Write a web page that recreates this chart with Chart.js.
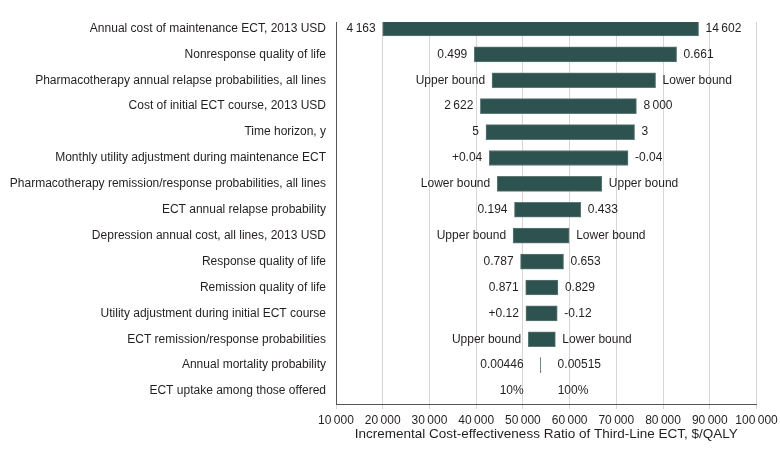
<!DOCTYPE html>
<html>
<head>
<meta charset="utf-8">
<script src="https://cdn.jsdelivr.net/npm/chart.js@4/dist/chart.umd.min.js"></script>
<style>
  html, body { margin: 0; padding: 0; background: #ffffff; }
  #wrap { width: 780px; height: 459px; position: relative; }
</style>
</head>
<body>
<div id="wrap"><canvas id="c"></canvas></div>
<script>
const categories = [
  'Annual cost of maintenance ECT, 2013 USD',
  'Nonresponse quality of life',
  'Pharmacotherapy annual relapse probabilities, all lines',
  'Cost of initial ECT course, 2013 USD',
  'Time horizon, y',
  'Monthly utility adjustment during maintenance ECT',
  'Pharmacotherapy remission/response probabilities, all lines',
  'ECT annual relapse probability',
  'Depression annual cost, all lines, 2013 USD',
  'Response quality of life',
  'Remission quality of life',
  'Utility adjustment during initial ECT course',
  'ECT remission/response probabilities',
  'Annual mortality probability',
  'ECT uptake among those offered'
];
const icerLow  = [20000, 39600, 43400, 40900, 42100, 42800, 44500, 48200, 47900, 49500, 50600, 50650, 51150, 53750, 53800];
const icerHigh = [87600, 82900, 78400, 74300, 73900, 72500, 66900, 62400, 59900, 58700, 57500, 57350, 56950, 53840, 53800];
const leftLabels  = ['4\u2009163', '0.499', 'Upper bound', '2\u2009622', '5', '+0.04', 'Lower bound', '0.194', 'Upper bound', '0.787', '0.871', '+0.12', 'Upper bound', '0.00446', '10%'];
const rightLabels = ['14\u2009602', '0.661', 'Lower bound', '8\u2009000', '3', '-0.04', 'Upper bound', '0.433', 'Lower bound', '0.653', '0.829', '-0.12', 'Lower bound', '0.00515', '100%'];
const xTickValues = [10000, 20000, 30000, 40000, 50000, 60000, 70000, 80000, 90000, 100000];
const xTitle = 'Incremental Cost-effectiveness Ratio of Third-Line ECT, $/QALY';

const FONT = '"Liberation Sans", Arial, sans-serif';
const TEXT = '#231f20';

function fmt(v) {
  return String(v).replace(/\B(?=(\d{3})+(?!\d))/g, '\u2009');
}

const barLabels = {
  id: 'barLabels',
  afterDatasetsDraw(chart) {
    const ctx = chart.ctx;
    const meta = chart.getDatasetMeta(0);
    ctx.save();
    ctx.font = '12px ' + FONT;
    ctx.fillStyle = TEXT;
    ctx.textBaseline = 'middle';
    meta.data.forEach((el, i) => {
      const p = el.getProps(['x', 'base', 'y'], true);
      let l = Math.min(p.x, p.base);
      let r = Math.max(p.x, p.base);
      if (r - l < 20) {
        const c = (l + r) / 2;
        l = c - 10; r = c + 10;
      }
      ctx.textAlign = 'right';
      ctx.fillText(leftLabels[i], l - 7, p.y);
      ctx.textAlign = 'left';
      ctx.fillText(rightLabels[i], r + 7, p.y);
    });
    ctx.restore();
  }
};

new Chart(document.getElementById('c'), {
  type: 'bar',
  data: {
    datasets: [{
      data: categories.map((_, i) => ({ y: i, x: [icerLow[i], icerHigh[i]] })),
      backgroundColor: '#2d524f',
      borderColor: '#5f7876',
      borderWidth: 1,
      borderSkipped: false,
      barThickness: 15
    }]
  },
  options: {
    indexAxis: 'y',
    responsive: true,
    maintainAspectRatio: false,
    animation: false,
    devicePixelRatio: 1,
    layout: { padding: { top: 22, right: 0, bottom: 0, left: 0 } },
    plugins: { legend: { display: false }, tooltip: { enabled: false } },
    scales: {
      y: {
        type: 'linear',
        reverse: true,
        offset: false,
        min: -0.25,
        max: 14.5,
        afterBuildTicks(scale) { scale.ticks = categories.map((_, i) => ({ value: i })); },
        afterFit(scale) { scale.width = 336; },
        grid: { display: false, drawTicks: false, offset: false },
        border: { display: true, color: '#555555', width: 1 },
        ticks: {
          autoSkip: false,
          padding: 10,
          color: TEXT,
          font: { family: FONT, size: 12 },
          callback: (v) => categories[v]
        }
      },
      x: {
        type: 'linear',
        min: 10000,
        max: 100000,
        afterBuildTicks(scale) { scale.ticks = xTickValues.map(v => ({ value: v })); },
        afterFit(scale) { scale.height = 55; scale.paddingRight = 23.5; },
        grid: { color: '#d6d6d6', lineWidth: 1, drawTicks: true, tickLength: 5, tickColor: '#d6d6d6' },
        border: { display: true, color: '#555555', width: 1 },
        ticks: {
          autoSkip: false,
          maxRotation: 0,
          padding: 4,
          color: TEXT,
          font: { family: FONT, size: 12 },
          callback: (v) => fmt(v)
        },
        title: {
          display: true,
          text: xTitle,
          color: TEXT,
          font: { family: FONT, size: 13.5 },
          padding: { top: 2, bottom: 17 }
        }
      }
    }
  },
  plugins: [barLabels]
});
</script>
</body>
</html>
